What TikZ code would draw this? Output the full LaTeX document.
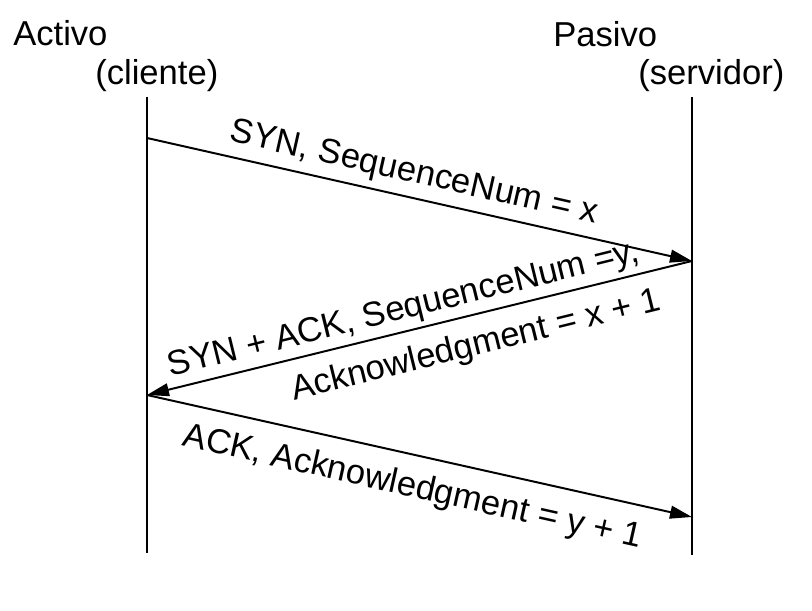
\documentclass[tikz,border=0pt]{standalone}
\usepackage{fontspec}
\setmainfont{Liberation Sans}
\usetikzlibrary{arrows.meta,positioning}

\begin{document}
\begin{tikzpicture}[x=0.025cm,y=-0.025cm,
        every node/.style={font=\fontsize{24.6}{29}\selectfont,inner sep=0pt},
        lifeline/.style={line width=1.4pt},
        msg/.style={line width=1.4pt,-{Triangle[length=0.55cm,width=0.32cm]}},
        lbl/.style={sloped,inner sep=3pt}]
    \useasboundingbox (0,0) rectangle (812,611);
    % participantes
    \node[anchor=base west] (activo) at (13,46) {Activo};
    \node[anchor=base west] (cliente) at (95,85) {(cliente)};
    \node[anchor=base west] (pasivo) at (553,47) {Pasivo};
    \node[anchor=base west] (servidor) at (638,85) {(servidor)};
    % lineas de vida
    \coordinate (ctop) at (147,97);
    \coordinate (cbot) at (147,553);
    \coordinate (stop) at (692,97);
    \coordinate (sbot) at (692,555);
    \draw[lifeline] (ctop) -- (cbot);
    \draw[lifeline] (stop) -- (sbot);
    % mensajes
    \coordinate (c1) at (147,138);
    \coordinate (s1) at (692,261);
    \coordinate (c2) at (147,395);
    \coordinate (s2) at (692,517);
    \draw[msg] (c1) -- node[lbl,above=2pt,pos=0.48] (syn) {SYN, SequenceNum = x} (s1);
    \draw[msg] (s1) -- node[lbl,above,pos=0.52] (synack) {SYN + ACK, SequenceNum =y,}
                        node[lbl,below=7pt,pos=0.41] (ackx) {Acknowledgment = x + 1} (c2);
    \draw[msg] (c2) -- node[lbl,below=8pt,pos=0.5] (ack) {ACK, Acknowledgment = y + 1} (s2);
\end{tikzpicture}
\end{document}
